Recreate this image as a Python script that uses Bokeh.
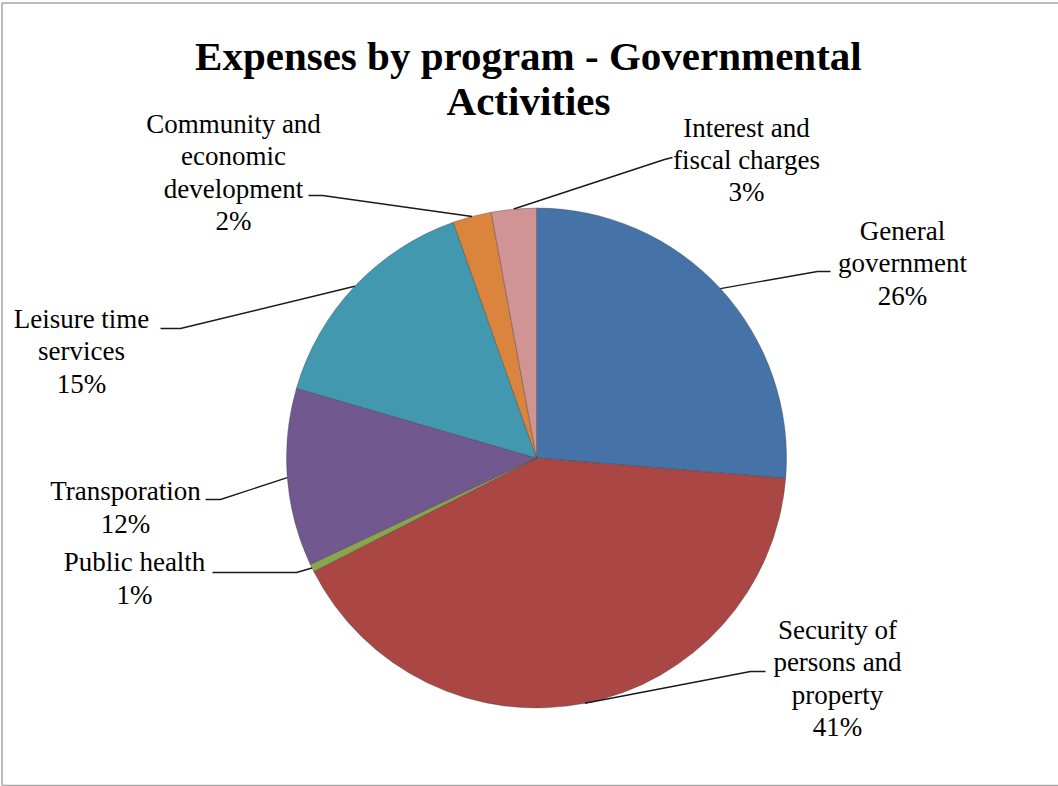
import math
from bokeh.plotting import figure
from bokeh.models import Range1d, ColumnDataSource
from bokeh.core.properties import value
from bokeh.embed import file_html
from bokeh.resources import INLINE

# ---- data ----
categories = ["General government", "Security of persons and property", "Public health",
              "Transporation", "Leisure time services", "Community and economic development",
              "Interest and fiscal charges"]
values = [26.3, 41.2, 0.5, 11.5, 15.1, 2.5, 2.9]
pct_labels = ["26%", "41%", "1%", "12%", "15%", "2%", "3%"]
label_text = ["General\ngovernment", "Security of\npersons and\nproperty", "Public health",
              "Transporation", "Leisure time\nservices", "Community and\neconomic\ndevelopment",
              "Interest and\nfiscal charges"]
title_lines = ["Expenses by program  - Governmental", "Activities"]

# ---- styles / layout ----
colors = ["#4572A7", "#AA4643", "#89A54E", "#71588F", "#4198AF", "#DB843D", "#D09494"]
W, H = 1058, 786
CX, CY, R = 536, 457.5, 250          # pie centre (pixel, y down) and radius
label_pos = [(902, 263), (837, 678), (134, 578), (125, 507), (81, 351), (233, 172), (746, 159.5)]
elbows = [[(830, 271), (817, 271)], [(765, 671), (750, 671)], [(212, 572), (296, 572)],
          [(205, 499), (220, 499)], [(160, 328), (180, 328)], [(308, 195), (322, 195)],
          [(672, 157), (664, 159)]]

def fy(y):
    return H - y

p = figure(width=W, height=H, output_backend="svg", toolbar_location=None,
           x_range=Range1d(0, W), y_range=Range1d(0, H),
           x_axis_location=None, y_axis_location=None, min_border=0)
p.outline_line_color = None
p.xgrid.visible = False
p.ygrid.visible = False
p.background_fill_color = "white"
p.border_fill_color = "white"

# wedges
total = sum(values)
starts, ends, mids = [], [], []
cum = 0.0
for v in values:
    a0 = math.pi / 2 - 2 * math.pi * cum / total
    cum += v
    a1 = math.pi / 2 - 2 * math.pi * cum / total
    starts.append(a0)
    ends.append(a1)
    mids.append((a0 + a1) / 2)

src = ColumnDataSource(dict(x=[CX] * len(values), y=[fy(CY)] * len(values),
                            start=starts, end=ends, color=colors, cat=categories))
p.wedge(x="x", y="y", radius=R, start_angle="start", end_angle="end", direction="clock",
        fill_color="color", line_color="#3a3a3a", line_alpha=0.35, line_width=1, source=src)

# leader lines
xs, ys = [], []
for m, el in zip(mids, elbows):
    ex = CX + R * math.cos(m)
    ey = fy(CY) + R * math.sin(m)
    xs.append([el[0][0], el[1][0], ex])
    ys.append([fy(el[0][1]), fy(el[1][1]), ey])
p.multi_line(xs=xs, ys=ys, line_color="#1a1a1a", line_width=1.4)

# data labels
texts = [t + "\n" + pc for t, pc in zip(label_text, pct_labels)]
p.text(x=[lp[0] for lp in label_pos], y=[fy(lp[1]) for lp in label_pos], text=texts,
       text_font=value("Liberation Serif"), text_font_size="27px", text_color="#000000",
       text_align="center", text_baseline="middle", text_line_height=1.07)

# title
p.text(x=[W / 2 + 4, W / 2 - 1], y=[fy(55), fy(100)], text=title_lines,
       text_font=value("Liberation Serif"), text_font_size="41px", text_font_style="bold",
       text_color="#000000", text_align="center", text_baseline="middle")

# chart frame
p.multi_line(xs=[[1.5, 1.5], [1.5, W + 5], [1.5, W + 5]],
             ys=[[fy(2.5), fy(785)], [fy(2.5), fy(2.5)], [fy(785), fy(785)]],
             line_color="#a6a6a6", line_width=1.5)

open("out.html", "w").write(file_html(p, INLINE))
